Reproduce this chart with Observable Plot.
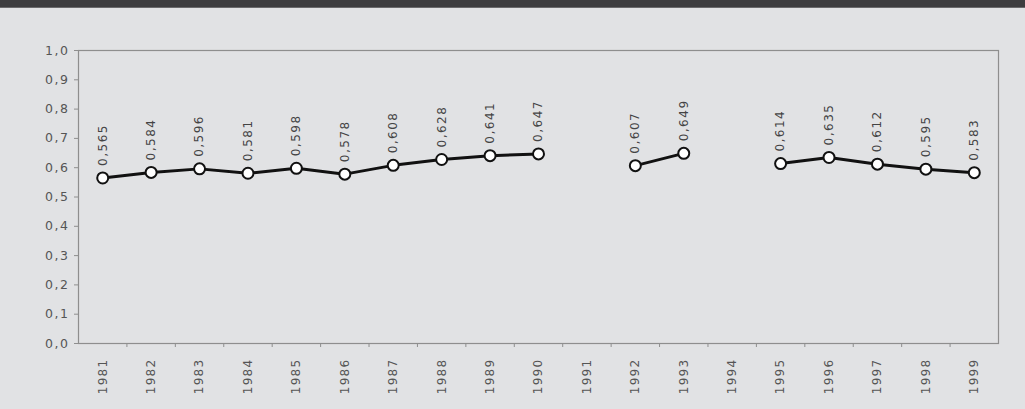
<!DOCTYPE html>
<html>
<head>
<meta charset="utf-8">
<script src="https://cdn.jsdelivr.net/npm/d3@7"></script>
<script src="https://cdn.jsdelivr.net/npm/@observablehq/plot@0.6"></script>
<style>
  html, body { margin: 0; padding: 0; background: #e1e2e4; }
  #bar { height: 7px; background: #3d3d3f; border-bottom: 1px solid #6a6a6c; }
  #chart svg { display: block; }
  #chart svg text { letter-spacing: 1.5px; }
  #chart svg g[aria-label="x-axis tick label"] text { letter-spacing: 1.3px; }
</style>
</head>
<body>
<div id="bar"></div>
<div id="chart"></div>
<script>
const years = [1981,1982,1983,1984,1985,1986,1987,1988,1989,1990,1991,1992,1993,1994,1995,1996,1997,1998,1999];
const values = [0.565,0.584,0.596,0.581,0.598,0.578,0.608,0.628,0.641,0.647,null,0.607,0.649,null,0.614,0.635,0.612,0.595,0.583];
const yTicks = [0,0.1,0.2,0.3,0.4,0.5,0.6,0.7,0.8,0.9,1.0];

const data = years.map((year, i) => ({year, value: values[i] == null ? NaN : values[i]}));
const known = data.filter(d => !isNaN(d.value));
const boundaries = years.slice(0, -1).map(y => y + 0.5);
const comma = (v, n) => v.toFixed(n).replace(".", ",");
const font = "'DejaVu Sans', sans-serif";

const chart = Plot.plot({
  width: 1025,
  height: 401,
  marginTop: 42,
  marginBottom: 66,
  marginLeft: 78,
  marginRight: 27,
  style: {background: "#e1e2e4", fontFamily: font, color: "#4a4a4a"},
  x: {domain: [years[0] - 0.5, years[years.length - 1] + 0.5], axis: null},
  y: {domain: [0, 1], axis: null},
  marks: [
    Plot.frame({stroke: "#8e8e8e", strokeWidth: 1.2}),
    Plot.axisY({ticks: yTicks, tickSize: 4, tickPadding: 5, tickFormat: d => comma(d, 1),
      fontSize: 12.5, stroke: "#8e8e8e", fill: "#555", label: null}),
    Plot.axisX({ticks: boundaries, tickSize: 4, tickFormat: () => "", stroke: "#8e8e8e", label: null}),
    Plot.axisX({ticks: years, tickSize: 0, tickPadding: 15, tickRotate: -90,
      textAnchor: "end", lineAnchor: "middle", tickFormat: d => String(d),
      fontSize: 12, fill: "#555", label: null}),
    Plot.line(data, {x: "year", y: "value", stroke: "#111", strokeWidth: 3}),
    Plot.dot(known, {x: "year", y: "value", r: 5.5, fill: "white", stroke: "#111", strokeWidth: 2}),
    Plot.text(known, {x: "year", y: "value", text: d => comma(d.value, 3), rotate: -90,
      textAnchor: "start", lineAnchor: "middle", dy: -12, fontSize: 12, fill: "#444"})
  ]
});
document.getElementById("chart").append(chart);
</script>
</body>
</html>
